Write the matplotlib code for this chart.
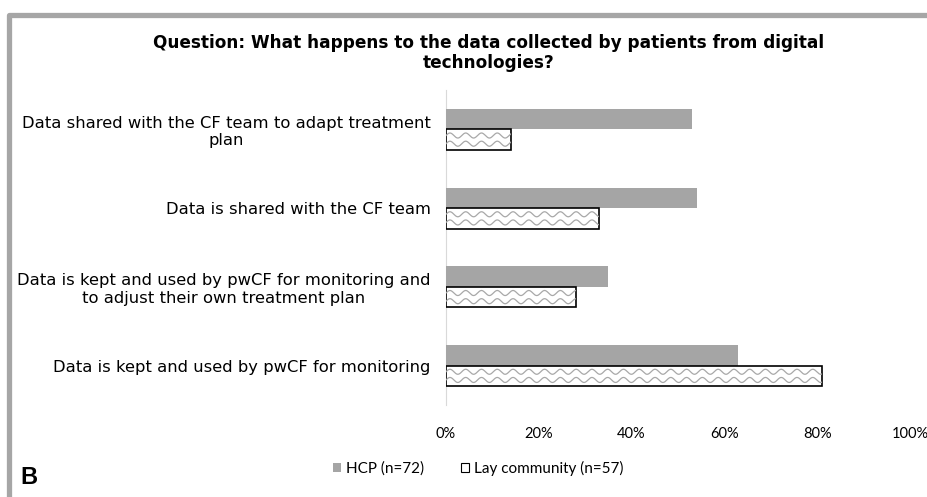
import matplotlib
matplotlib.use('Agg')
import matplotlib.pyplot as plt
import numpy as np
from matplotlib.lines import Line2D
from matplotlib.patches import Patch

# data (bottom to top as drawn)
categories = [
    'Data is kept and used by pwCF for monitoring',
    'Data is kept and used by pwCF for monitoring and\nto adjust their own treatment plan',
    'Data is shared with the CF team',
    'Data shared with the CF team to adapt treatment\nplan',
]
hcp = [63, 35, 54, 53]
lay = [81, 28, 33, 14]
series_names = ['HCP (n=72)', 'Lay community (n=57)']
xticks = [0, 20, 40, 60, 80, 100]

W, H = 928, 497
fig = plt.figure(figsize=(W / 100, H / 100), dpi=100, facecolor='white')
ax = fig.add_axes([446 / W, 1 - 405 / H, (910 - 446) / W, (405 - 90) / H])

y = np.arange(len(categories))
bh = 0.26
ax.barh(y + bh / 2, hcp, height=bh, color='#a5a5a5', edgecolor='none', zorder=3)
lay_bars = ax.barh(y - bh / 2, lay, height=bh, color='white', edgecolor='black',
                   linewidth=1.2, zorder=3)

# wavy fill for lay community bars
period = 3.4
amp = 0.032
for rect in lay_bars:
    x0, y0 = rect.get_x(), rect.get_y()
    w, h = rect.get_width(), rect.get_height()
    xs = np.linspace(x0 - period, x0 + w + period, 400)
    for off in (0.3, 0.7):
        yc = y0 + h * off
        ys = yc + amp * np.sin(2 * np.pi * xs / period)
        ln, = ax.plot(xs, ys, color='#a8a8a8', lw=0.9, zorder=3.5)
        ln.set_clip_path(rect)

ax.set_xlim(0, 100)
ax.set_ylim(-0.5, len(categories) - 0.5)
ax.set_xticks(xticks)
ax.set_xticklabels([f'{t}%' for t in xticks], family='Lato', fontsize=10.5)
ax.set_yticks(y)
ax.set_yticklabels(categories, fontsize=11.8, color='black', multialignment='center',
                   family='DejaVu Sans')
ax.tick_params(axis='both', length=0)
ax.tick_params(axis='x', pad=16)
ax.tick_params(axis='y', pad=11)
for s in ['top', 'right', 'bottom']:
    ax.spines[s].set_visible(False)
ax.spines['left'].set_color('#d9d9d9')

fig.text(489 / W, 1 - 53 / H,
         'Question: What happens to the data collected by patients from digital\ntechnologies?',
         ha='center', va='center', fontsize=12.2, fontweight='bold', linespacing=1.1)

handles = [Patch(facecolor='#a5a5a5', edgecolor='none', label=series_names[0]),
           Patch(facecolor='white', edgecolor='black', lw=0.8, label=series_names[1])]
leg = fig.legend(handles=handles, loc='center', bbox_to_anchor=(478 / W, 1 - 468 / H),
                 ncol=2, frameon=False, prop={'family': 'Lato', 'size': 11},
                 handlelength=0.55, handleheight=0.55, handletextpad=0.3, columnspacing=2.4)

fig.text(20 / W, 1 - 478 / H, 'B', fontsize=17, fontweight='bold', family='Liberation Sans',
         ha='left', va='center')

# grey frame
frame = Line2D([9.5 / W, 9.5 / W, 1.0], [0.0, 1 - 14.5 / H, 1 - 14.5 / H],
               transform=fig.transFigure, color='#a6a6a6', lw=3.8,
               solid_joinstyle='round')
fig.add_artist(frame)

fig.savefig('out.png', dpi=100, facecolor='white')
plt.close()
